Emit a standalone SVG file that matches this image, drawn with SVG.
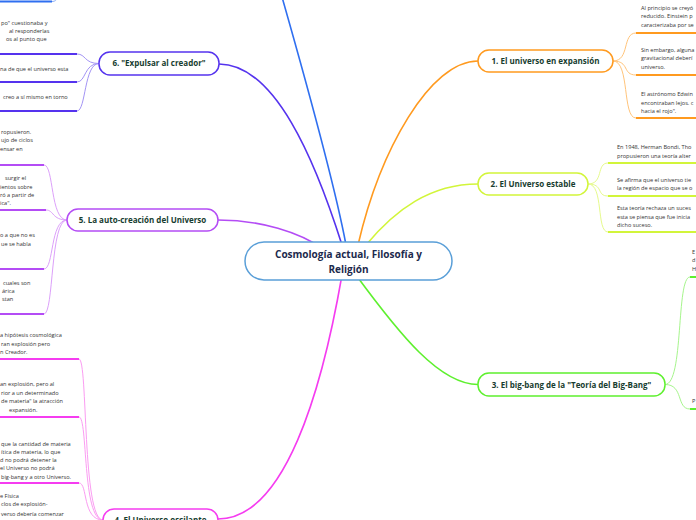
<svg xmlns="http://www.w3.org/2000/svg" width="696" height="520" viewBox="0 0 696 520">
<style>
.main{fill:none;stroke-width:1.6;stroke-linecap:round}
.sub{fill:none;stroke-width:1}
.ul{fill:none;stroke-width:2}
.box{fill:#fff;stroke-width:1.5}
.lbl{font-family:"Open Sans","Noto Sans",sans-serif;font-weight:bold;font-size:8px;fill:#173d30;text-anchor:middle}
.ctr{font-family:"Open Sans","Noto Sans",sans-serif;font-weight:bold;font-size:10px;fill:#1c2a4d;text-anchor:middle}
.t{font-family:"Open Sans","Noto Sans",sans-serif;font-size:5.6px;fill:#333}
</style>
<rect width="696" height="520" fill="#fff"/>
<g id="connectors">
  <path class="main" stroke="#2f6ff0" d="M346,245 C 334,180 300,60 280,-10"/>
  <path class="main" stroke="#5533ee" d="M219,64 C 275,64 315,160 342,245"/>
  <path class="main" stroke="#b44cf5" d="M218,220 C 260,220 300,232 325,250"/>
  <path class="main" stroke="#ff9a1f" d="M478,61 C 430,61 380,150 358,245"/>
  <path class="main" stroke="#d2f53a" d="M478,184 C 430,184 395,210 366,245"/>
  <path class="main" stroke="#5ef02e" d="M356,275 C 400,335 440,384.5 478,384.5"/>
  <path class="main" stroke="#f53cf0" d="M342,275 C 322,390 285,519 218,519"/>
  <path class="sub" stroke="#ffc47a" d="M613,61 C 630,61 622,33 636,33 M613,61 C 630,61 622,75 636,75 M613,61 C 630,61 622,118 636,118"/>
  <path class="ul" stroke="#ff9a1f" d="M636,33 H700 M636,75 H700 M636,118 H700"/>
  <path class="sub" stroke="#e6fa8c" d="M588,184 C 604,184 596,163 608,163 M588,184 C 604,184 596,196 608,196 M588,184 C 604,184 596,232 608,232"/>
  <path class="ul" stroke="#d2f53a" d="M608,163 H700 M608,196 H700 M608,232 H700"/>
  <path class="sub" stroke="#a6f58c" d="M665,384.5 C 684,384.5 676,277 690,277 M665,384.5 C 684,384.5 676,409 690,409"/>
  <path class="ul" stroke="#5ef02e" d="M690,277 H700 M690,409 H700"/>
  <path class="sub" stroke="#fb9cf2" d="M103,520 C 82,520 88,359 79,359 M103,520 C 82,520 88,417 79,417 M103,520 C 82,520 88,483 79,483 M103,520 C 88,520 88,540 79,540"/>
  <path class="ul" stroke="#f53cf0" d="M-5,359 H79 M-5,417 H79 M-5,483 H79"/>
  <path class="sub" stroke="#dca0fa" d="M67,220 C 50,220 54,165 44,165 M67,220 C 52,220 54,210 46,210 M67,220 C 50,220 54,269 44,269 M67,220 C 50,220 54,314 44,314"/>
  <path class="ul" stroke="#b44cf5" d="M-5,165 H44 M-5,210 H46 M-5,269 H44 M-5,314 H44"/>
  <path class="sub" stroke="#a394f5" d="M99,63.5 C 84,63.5 86,54 77,54 M99,63.5 C 84,63.5 86,82 77,82 M99,63.5 C 84,63.5 86,111 77,111"/>
  <path class="ul" stroke="#5533ee" d="M-5,54 H77 M-5,82 H77 M-5,111 H77"/>
  <path class="sub" stroke="#8fb2f7" d="M52,1.5 C 58,1.5 58,-4 60,-10"/>
  <path class="ul" stroke="#2f6ff0" d="M-5,1.5 H52"/>
</g>
<g id="center">
  <rect class="box" x="245" y="242" width="207" height="38" rx="19" stroke="#5a9fd8"/>
  <text class="ctr" x="348.5" y="258">Cosmología actual, Filosofía y</text>
  <text class="ctr" x="348.5" y="273">Religión</text>
</g>
<g id="node1">
  <rect class="box" x="478" y="50" width="135" height="22" rx="11" stroke="#ff9a1f"/>
  <text class="lbl" x="545.5" y="63.8">1. El universo en expansión</text>
  <text class="t" x="641" y="9.5">Al principio se creyó</text>
  <text class="t" x="641" y="18">reducido. Einstein p</text>
  <text class="t" x="641" y="26.5">caracterizaba por se</text>
  <text class="t" x="641" y="51.5">Sin embargo, alguna</text>
  <text class="t" x="641" y="60">gravitacional deberí</text>
  <text class="t" x="641" y="68.5">universo.</text>
  <text class="t" x="641" y="95.5">El astrónomo Edwin</text>
  <text class="t" x="641" y="104.5">encontraban lejos. c</text>
  <text class="t" x="641" y="113">hacia el rojo".</text>
</g>
<g id="node2">
  <rect class="box" x="478" y="173" width="110" height="22" rx="11" stroke="#d2f53a"/>
  <text class="lbl" x="533" y="186.8">2. El Universo estable</text>
  <text class="t" x="617" y="149">En 1948, Herman Bondi, Tho</text>
  <text class="t" x="617" y="158">propusieron una teoría alter</text>
  <text class="t" x="617" y="181.5">Se afirma que el universo tie</text>
  <text class="t" x="617" y="190">la región de espacio que se o</text>
  <text class="t" x="617" y="210">Esta teoría rechaza un suces</text>
  <text class="t" x="617" y="218.5">esta se piensa que fue inicia</text>
  <text class="t" x="617" y="227">dicho suceso.</text>
</g>
<g id="node3">
  <rect class="box" x="478" y="373" width="187" height="23" rx="11" stroke="#5ef02e"/>
  <text class="lbl" x="571.5" y="387.5">3. El big-bang de la "Teoría del Big-Bang"</text>
  <text class="t" x="692" y="254">E</text>
  <text class="t" x="692" y="262">d</text>
  <text class="t" x="692" y="271">H</text>
  <text class="t" x="692" y="403">P</text>
</g>
<g id="node4">
  <rect class="box" x="103" y="509" width="115" height="23" rx="11" stroke="#f53cf0"/>
  <text class="lbl" x="160.5" y="523">4. El Universo oscilante</text>
  <text class="t" x="0" y="337">a hipótesis cosmológica</text>
  <text class="t" x="1" y="345.5">ran explosión pero</text>
  <text class="t" x="0" y="354">n Creador.</text>
  <text class="t" x="0" y="386">an explosión, pero al</text>
  <text class="t" x="1" y="394.5">rior a un determinado</text>
  <text class="t" x="1" y="403">de materia" la atracción</text>
  <text class="t" x="9" y="411.5">expansión.</text>
  <text class="t" x="1" y="445.5">que la cantidad de materia</text>
  <text class="t" x="1" y="453.5">ítica de materia, lo que</text>
  <text class="t" x="0" y="461.5">d no podrá detener la</text>
  <text class="t" x="0" y="469.5">el Universo no podrá</text>
  <text class="t" x="1" y="479">big-bang y a otro Universo.</text>
  <text class="t" x="0" y="498">e Física</text>
  <text class="t" x="1" y="506">clos de explosión-</text>
  <text class="t" x="1" y="515.5">verso debería comenzar</text>
</g>
<g id="node5">
  <rect class="box" x="67" y="209" width="151" height="22" rx="11" stroke="#b44cf5"/>
  <text class="lbl" x="142.5" y="222.8">5. La auto-creación del Universo</text>
  <text class="t" x="1" y="134">ropusieron.</text>
  <text class="t" x="1" y="142">ujo de ciclos</text>
  <text class="t" x="0" y="150.5">ensar en</text>
  <text class="t" x="5" y="180">surgir el</text>
  <text class="t" x="0" y="188.5">ientos sobre</text>
  <text class="t" x="0" y="196.5">ró a partir de</text>
  <text class="t" x="0" y="205">ica".</text>
  <text class="t" x="0" y="236.5">o a que no es</text>
  <text class="t" x="1" y="245.5">ue se habla</text>
  <text class="t" x="3" y="284.5">cuales son</text>
  <text class="t" x="2" y="293">árica</text>
  <text class="t" x="2" y="301">stan</text>
</g>
<g id="node6">
  <rect class="box" x="99" y="52" width="120" height="23" rx="11" stroke="#5533ee"/>
  <text class="lbl" x="159" y="66.3">6. "Expulsar al creador"</text>
  <text class="t" x="1" y="25">po" cuestionaba y</text>
  <text class="t" x="9" y="33">al responderlas</text>
  <text class="t" x="6" y="41">os al punto que</text>
  <text class="t" x="0" y="70.5">na de que el universo esta</text>
  <text class="t" x="3" y="99">creo a sí mismo en torno</text>
</g>
</svg>
